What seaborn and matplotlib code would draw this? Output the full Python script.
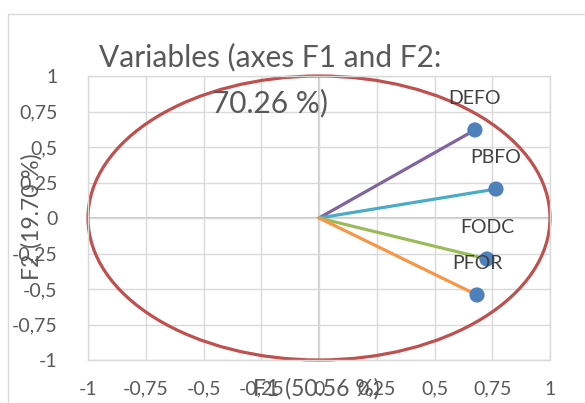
import matplotlib
matplotlib.use("Agg")
import matplotlib.pyplot as plt
import seaborn as sns
import pandas as pd
from matplotlib.patches import Circle, Rectangle

variables = ["DEFO", "PBFO", "FODC", "PFOR"]
f1 = [0.675, 0.766, 0.727, 0.684]
f2 = [0.620, 0.204, -0.289, -0.542]
line_colors = ["#8064A2", "#4BACC6", "#9BBB59", "#F79646"]
tick_values = [-1, -0.75, -0.5, -0.25, 0, 0.25, 0.5, 0.75, 1]
tick_labels = ["-1", "-0,75", "-0,5", "-0,25", "0", "0,25", "0,5", "0,75", "1"]
title_text = "Variables (axes F1 and F2:\n70.26 %)"
xlabel_text = "F1 (50.56 %)"
ylabel_text = "F2 (19.70 %)"

sns.set_style("white")
plt.rcParams["font.family"] = ["Lato", "DejaVu Sans"]

fig = plt.figure(figsize=(5.85, 4.03), dpi=100)
ax = fig.add_axes([88 / 585, 1 - 360 / 403, 462 / 585, 284 / 403])

df = pd.DataFrame({"var": variables, "F1": f1, "F2": f2})

ax.set_xlim(-1, 1)
ax.set_ylim(-1, 1)
ax.set_xticks(tick_values)
ax.set_yticks(tick_values)
ax.set_xticklabels(tick_labels)
ax.set_yticklabels(tick_labels)
ax.grid(True, color="#D9D9D9", linewidth=1.0)
ax.set_axisbelow(True)
for sp in ax.spines.values():
    sp.set_visible(True)
    sp.set_color("#D9D9D9")
    sp.set_linewidth(1.0)
ax.axhline(0, color="#BFBFBF", linewidth=1.2, zorder=0.5)
ax.axvline(0, color="#BFBFBF", linewidth=1.2, zorder=0.5)
ax.tick_params(axis="both", length=0, labelsize=14, labelcolor="#595959")
ax.tick_params(axis="y", pad=22)
ax.tick_params(axis="x", pad=15)

# unit circle
ax.add_patch(Circle((0, 0), 1, fill=False, edgecolor="#C0504D", linewidth=2.3,
                    zorder=2, clip_on=False))

# vectors
for v, x, y, c in zip(variables, f1, f2, line_colors):
    seg = pd.DataFrame({"x": [0, x], "y": [0, y]})
    sns.lineplot(data=seg, x="x", y="y", ax=ax, color=c, linewidth=2.3,
                 sort=False, zorder=3)

sns.scatterplot(data=df, x="F1", y="F2", ax=ax, color="#4F81BD", s=120,
                edgecolor="none", zorder=4, legend=False)
for v, x, y in zip(variables, f1, f2):
    ax.annotate(v, (x, y), xytext=(0, 23), textcoords="offset points",
                ha="center", va="center", fontsize=14, color="#404040", zorder=5)

ax.set_xlabel("")
ax.set_ylabel("")
fig.text(316 / 585, 1 - 389 / 403, xlabel_text, ha="center", va="center",
         fontsize=16.5, color="#595959")
fig.text(32 / 585, 1 - 217 / 403, ylabel_text, ha="center", va="center",
         rotation=90, fontsize=16.5, color="#595959")
fig.text(270 / 585, 1 - 80 / 403, title_text, ha="center", va="center",
         fontsize=21.5, color="#595959", linespacing=1.7)

fig.patches.append(Rectangle((8 / 585, -0.1), 1.2, 1 - 14 / 403 + 0.1,
                             transform=fig.transFigure, fill=False,
                             edgecolor="#D9D9D9", linewidth=1.0))

fig.savefig("out.png", dpi=100)
